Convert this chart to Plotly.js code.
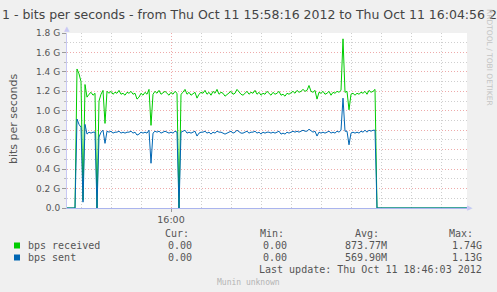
<!DOCTYPE html>
<html><head><meta charset="utf-8">
<script src="https://cdn.plot.ly/plotly-3.0.1.min.js"></script>
<style>html,body{margin:0;padding:0;background:#f0f0f0;}#chart{width:497px;height:292px;}</style>
</head><body><div id="chart"></div>
<script>
// ---- data (Gbit/s), one sample every 2 s from 15:58:16 ----
const startHMS = [15, 58, 16];
const stepSeconds = 2;
const received = [
  0,0,0,0,0,1.43,1.38,1.30,0.08,1.27,
  1.14,1.17,1.19,1.16,1.18,0.00,1.10,1.17,1.21,0.87,
  1.20,1.18,1.20,1.17,1.19,1.18,1.21,1.17,1.18,1.16,
  1.19,1.18,1.20,1.17,1.18,1.12,1.14,1.18,1.16,1.19,
  1.17,1.22,0.85,1.17,1.20,1.18,1.21,1.17,1.19,1.20,
  1.18,1.16,1.19,1.17,1.20,1.18,0.00,1.17,1.19,1.22,
  1.17,1.19,1.16,1.18,1.19,1.13,1.17,1.19,1.18,1.21,
  1.17,1.19,1.16,1.20,1.18,1.22,1.17,1.19,1.18,1.15,
  1.17,1.19,1.20,1.17,1.18,1.22,1.19,1.17,1.16,1.18,
  1.20,1.17,1.19,1.18,1.21,1.17,1.19,1.16,1.18,1.17,
  1.20,1.18,1.16,1.19,1.17,1.18,1.20,1.16,1.17,1.15,
  1.18,1.17,1.19,1.20,1.18,1.21,1.19,1.20,1.22,1.20,
  1.21,1.26,1.20,1.19,1.21,1.12,1.19,1.18,1.20,1.17,
  1.18,1.20,1.16,1.19,1.18,1.20,1.19,1.21,1.74,1.19,
  1.20,1.01,1.17,1.18,1.16,1.18,1.17,1.19,1.18,1.20,
  1.17,1.21,1.19,1.20,1.22,0,0,0,0,0,
  0,0,0,0,0,0,0,0,0,0,
  0,0,0,0,0,0,0,0,0,0,
  0,0,0,0,0,0,0,0,0,0,
  0,0,0,0,0,0,0,0,0,0,
  0
];
const sent = [
  0,0,0,0,0,0.915,0.86,0.83,0.06,0.86,
  0.76,0.78,0.77,0.78,0.78,0.00,0.73,0.78,0.80,0.665,
  0.79,0.78,0.79,0.77,0.78,0.78,0.79,0.77,0.78,0.77,
  0.78,0.78,0.79,0.77,0.78,0.75,0.76,0.78,0.77,0.78,
  0.77,0.80,0.46,0.77,0.79,0.78,0.79,0.77,0.78,0.79,
  0.78,0.77,0.78,0.77,0.79,0.78,0.00,0.78,0.79,0.80,
  0.77,0.78,0.77,0.78,0.79,0.74,0.77,0.78,0.78,0.79,
  0.77,0.78,0.76,0.78,0.77,0.79,0.78,0.78,0.77,0.76,
  0.77,0.78,0.79,0.77,0.78,0.80,0.78,0.77,0.77,0.78,
  0.79,0.77,0.78,0.78,0.79,0.77,0.78,0.76,0.78,0.77,
  0.78,0.78,0.77,0.78,0.77,0.78,0.79,0.76,0.77,0.76,
  0.78,0.77,0.78,0.79,0.78,0.79,0.78,0.79,0.80,0.79,
  0.79,0.81,0.79,0.78,0.79,0.74,0.78,0.77,0.78,0.77,
  0.78,0.79,0.77,0.78,0.77,0.79,0.78,0.80,1.13,0.79,
  0.79,0.65,0.77,0.78,0.77,0.78,0.77,0.79,0.78,0.80,
  0.78,0.80,0.79,0.80,0.80,0,0,0,0,0,
  0,0,0,0,0,0,0,0,0,0,
  0,0,0,0,0,0,0,0,0,0,
  0,0,0,0,0,0,0,0,0,0,
  0,0,0,0,0,0,0,0,0,0,
  0
];
const seriesNames = ['bps received', 'bps sent'];
const seriesColors = ['#00cc00', '#0066b3'];
const yTickVals = [0, 0.2, 0.4, 0.6, 0.8, 1.0, 1.2, 1.4, 1.6, 1.8];
const yTickText = ['0.0', '0.2 G', '0.4 G', '0.6 G', '0.8 G', '1.0 G', '1.2 G', '1.4 G', '1.6 G', '1.8 G'];
const xTickVals = ['2012-10-11 16:00:00'];
const xTickText = ['16:00'];
const xRange = ['2012-10-11 15:58:16', '2012-10-11 16:04:56'];
const legendHeaders = ['Cur:', 'Min:', 'Avg:', 'Max:'];
const legendCur = ['0.00', '0.00'];
const legendMin = ['0.00', '0.00'];
const legendAvg = ['873.77M', '569.90M'];
const legendMax = ['1.74G', '1.13G'];
const titleText = '1 - bits per seconds - from Thu Oct 11 15:58:16 2012 to Thu Oct 11 16:04:56 2012';
const yTitle = 'bits per seconds';
const lastUpdate = 'Last update: Thu Oct 11 18:46:03 2012';
const footer = 'Munin unknown';
const watermark = 'RRDTOOL / TOBI OETIKER';

// ---- build ----
function pad(n){ return (n < 10 ? '0' : '') + n; }
function timeAt(i){
  let s = startHMS[0]*3600 + startHMS[1]*60 + startHMS[2] + i*stepSeconds;
  const h = Math.floor(s/3600), m = Math.floor((s%3600)/60), sec = s%60;
  return '2012-10-11 ' + pad(h) + ':' + pad(m) + ':' + pad(sec);
}
const times = received.map((_, i) => timeAt(i));

const traces = [received, sent].map((vals, k) => ({
  x: times, y: vals, type: 'scatter', mode: 'lines', name: seriesNames[k],
  line: {color: seriesColors[k], width: 1}, hoverinfo: 'skip'
}));

const W = 497, H = 292, L = 67, R = 467, T = 33, B = 208;
const px = x => (x - L) / (R - L);
const py = y => (B - y) / (B - T);
const grey = '#555555';
const mono = 'DejaVu Sans Mono';
function txt(x, y, text, anchor, size, color, fam, extra){
  return Object.assign({xref:'paper', yref:'paper', x: px(x), y: py(y), text: text,
    showarrow:false, xanchor: anchor, yanchor:'middle',
    font:{family: fam || mono, size: size || 10, color: color || grey}}, extra || {});
}
const ann = [];
ann.push(txt(-0.5, 14, titleText, 'left', 12.5, '#444', 'DejaVu Sans'));
ann.push(txt(13, 119, yTitle, 'center', 11, grey, 'DejaVu Sans', {textangle: -90}));
ann.push(txt(163, 233, legendHeaders[0], 'left'));
ann.push(txt(258, 233, legendHeaders[1], 'left'));
ann.push(txt(353, 233, legendHeaders[2], 'left'));
ann.push(txt(447, 233, legendHeaders[3], 'left'));
const rowY = [245.5, 257.5];
for (let k = 0; k < 2; k++){
  ann.push(txt(26, rowY[k], seriesNames[k], 'left'));
  ann.push(txt(193.5, rowY[k], legendCur[k], 'right'));
  ann.push(txt(288.5, rowY[k], legendMin[k], 'right'));
  ann.push(txt(388.5, rowY[k], legendAvg[k], 'right'));
  ann.push(txt(483.5, rowY[k], legendMax[k], 'right'));
}
ann.push(txt(483.5, 269.5, lastUpdate, 'right'));
ann.push(txt(248.5, 282, footer, 'center', 8, '#b4b4b4'));
ann.push(txt(490, 57, watermark, 'center', 7.5, '#c4c4c4', 'DejaVu Sans', {textangle: 90}));
ann.push(txt(66.5, 29, '▲', 'center', 7, '#c8c8f4', 'DejaVu Sans'));
ann.push(txt(470, 208, '▶', 'center', 7, '#c8c8f4', 'DejaVu Sans'));

const shapes = seriesColors.map((c, k) => ({type:'rect', xref:'paper', yref:'paper',
  x0: px(14), x1: px(20), y0: py(rowY[k] - 3), y1: py(rowY[k] + 3),
  fillcolor: c, line:{width:0}}));

const layout = {
  width: W, height: H,
  margin: {l: L, r: W - R, t: T, b: H - B, pad: 0},
  paper_bgcolor: '#f0f0f0', plot_bgcolor: '#ffffff',
  showlegend: false,
  xaxis: {
    type: 'date', range: xRange, fixedrange: true,
    tickmode: 'array', tickvals: xTickVals, ticktext: xTickText,
    ticks: 'outside', ticklen: 3, tickcolor: '#999',
    showgrid: true, gridcolor: '#eeaaaa', griddash: '1px,2px', gridwidth: 1,
    minor: {tickmode: 'linear', tick0: '2012-10-11 16:00:00', dtick: 30000,
            showgrid: true, gridcolor: '#cfcfcf', griddash: '1px,2px', ticks: ''},
    showline: true, linecolor: '#aab4ee', linewidth: 1, zeroline: false,
    tickfont: {family: 'DejaVu Sans', size: 9.5, color: grey}
  },
  yaxis: {
    range: [0, 1.8], fixedrange: true,
    tickmode: 'array', tickvals: yTickVals, ticktext: yTickText,
    ticks: 'outside', ticklen: 4, tickcolor: '#999',
    showgrid: true, gridcolor: '#eeaaaa', griddash: '1px,2px', gridwidth: 1,
    minor: {tickmode: 'linear', tick0: 0, dtick: 0.1, showgrid: true,
            gridcolor: '#cfcfcf', griddash: '1px,2px', ticks: 'outside', ticklen: 2, tickcolor: '#bbb'},
    showline: true, linecolor: '#c8c8f4', linewidth: 1, zeroline: false,
    tickfont: {family: 'DejaVu Sans', size: 9, color: grey}
  },
  annotations: ann,
  shapes: shapes
};
Plotly.newPlot('chart', traces, layout, {displayModeBar: false, staticPlot: true});
</script></body></html>
